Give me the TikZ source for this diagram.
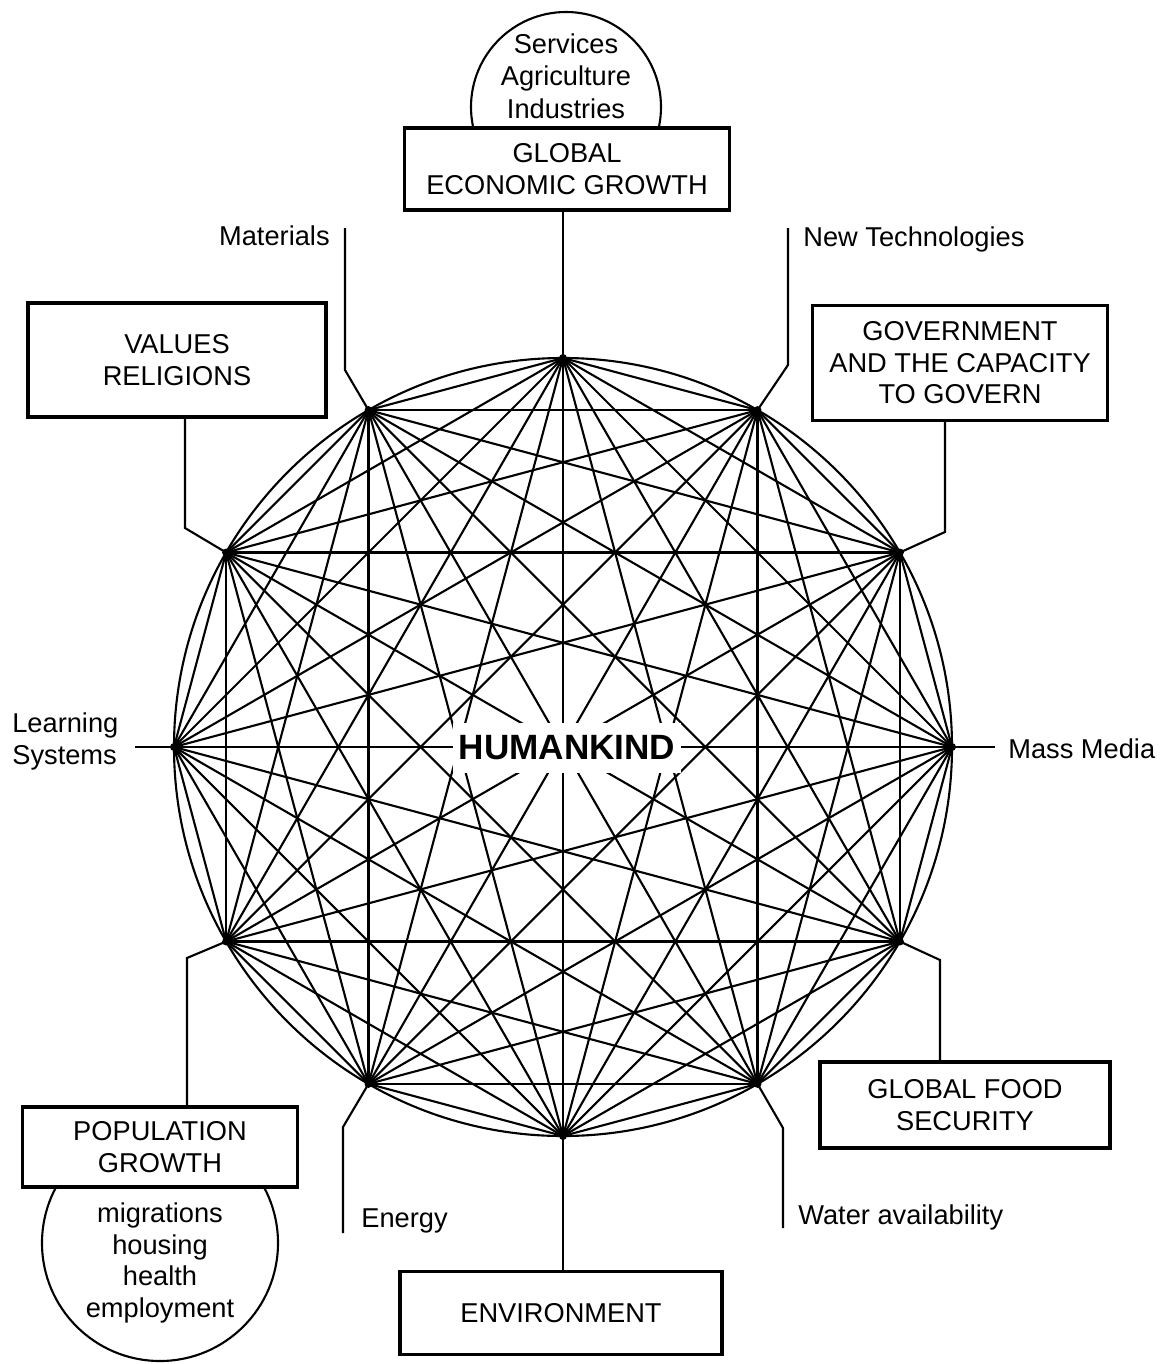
\documentclass[tikz,border=0pt]{standalone}
\usepackage{fontspec}
\setmainfont{Liberation Sans}
\usetikzlibrary{positioning}
\begin{document}
\begin{tikzpicture}[x=0.2mm,y=-0.2mm,
  box/.style={draw,line width=1.8pt,fill=white,align=center,inner sep=0pt,font=\fontsize{15.5}{18.5}\selectfont},
  lbl/.style={align=left,inner sep=0pt,font=\fontsize{15.5}{18.5}\selectfont},
  link/.style={line width=1.2pt}]
\useasboundingbox (0,0) rectangle (1175,1364);
\def\hub{(563,747)}

% the wheel: twelve points, all joined
\foreach \i in {0,...,11}
  \path \hub ++(90-30*\i:77.8mm) coordinate (p\i);
\draw[link] \hub circle (77.8mm);
\foreach \i in {0,...,10}{
  \pgfmathtruncatemacro\k{\i+1}
  \foreach \j in {\k,...,11}
    \draw[link] (p\i) -- (p\j);
}
\foreach \i in {0,...,11}
  \fill (p\i) circle (0.8mm);
\node[fill=white,inner xsep=1.2mm,inner ysep=2.6mm,font=\fontsize{20}{24}\selectfont\bfseries] (human) at (567,748) {HUMANKIND};

% circles behind the boxes
\draw[link] (566,107) circle (19mm);
\draw[link] (160,1243) circle (23.6mm);
\node[lbl,align=center] (sectors) at (566,76) {Services\\Agriculture\\Industries};
\node[lbl,align=center,font=\fontsize{15.5}{18}\selectfont] (needs) at (160,1263) {migrations\\housing\\health\\employment};

% boxes
\node[box,minimum width=65mm,minimum height=16.4mm] (econ) at (567,169) {GLOBAL\\ECONOMIC GROWTH};
\node[box,minimum width=59.6mm,minimum height=22.8mm] (values) at (177,360) {VALUES\\RELIGIONS};
\node[box,minimum width=59mm,minimum height=23mm,font=\fontsize{15.5}{17.9}\selectfont] (gov) at (960,363) {GOVERNMENT\\AND THE CAPACITY\\TO GOVERN};
\node[box,minimum width=55mm,minimum height=16mm] (pop) at (160,1147) {POPULATION\\GROWTH};
\node[box,minimum width=58mm,minimum height=17.2mm] (food) at (965,1105) {GLOBAL FOOD\\SECURITY};
\node[box,minimum width=64.4mm,minimum height=16.6mm] (env) at (561,1313) {ENVIRONMENT};

% free ends and bends
\coordinate (matend) at (345,228);
\coordinate (techend) at (788,228);
\coordinate (learnend) at (135,747);
\coordinate (mediaend) at (995,747);
\coordinate (energyend) at (343,1233);
\coordinate (waterend) at (783,1228);
\coordinate (b11) at (345,370);
\coordinate (b1) at (788,365);
\coordinate (b10) at (185,528);
\coordinate (b2) at (945,532);
\coordinate (b8) at (187,958);
\coordinate (b4) at (940,960);
\coordinate (b7) at (343,1127);
\coordinate (b5) at (783,1128);

\draw[link] (p0) -- (p0 |- econ.south);
\draw[link] (p6) -- (p6 |- env.north);
\draw[link] (p11) -- (b11) -- (matend);
\draw[link] (p1) -- (b1) -- (techend);
\draw[link] (p10) -- (b10) -- (b10 |- values.south);
\draw[link] (p2) -- (b2) -- (b2 |- gov.south);
\draw[link] (p9) -- (learnend);
\draw[link] (p3) -- (mediaend);
\draw[link] (p8) -- (b8) -- (b8 |- pop.north);
\draw[link] (p4) -- (b4) -- (b4 |- food.north);
\draw[link] (p7) -- (b7) -- (energyend);
\draw[link] (p5) -- (b5) -- (waterend);

% labels
\node[lbl,anchor=base east] (materials) at (330,245) {Materials};
\node[lbl,anchor=base west] (newtech) at (803,246) {New Technologies};
\node[lbl,anchor=north west] (learning) at (12,712) {Learning\\Systems};
\node[lbl,anchor=base west] (media) at (1008,758) {Mass Media};
\node[lbl,anchor=base west] (energy) at (361,1227) {Energy};
\node[lbl,anchor=base west] (water) at (798,1224) {Water availability};
\end{tikzpicture}
\end{document}
